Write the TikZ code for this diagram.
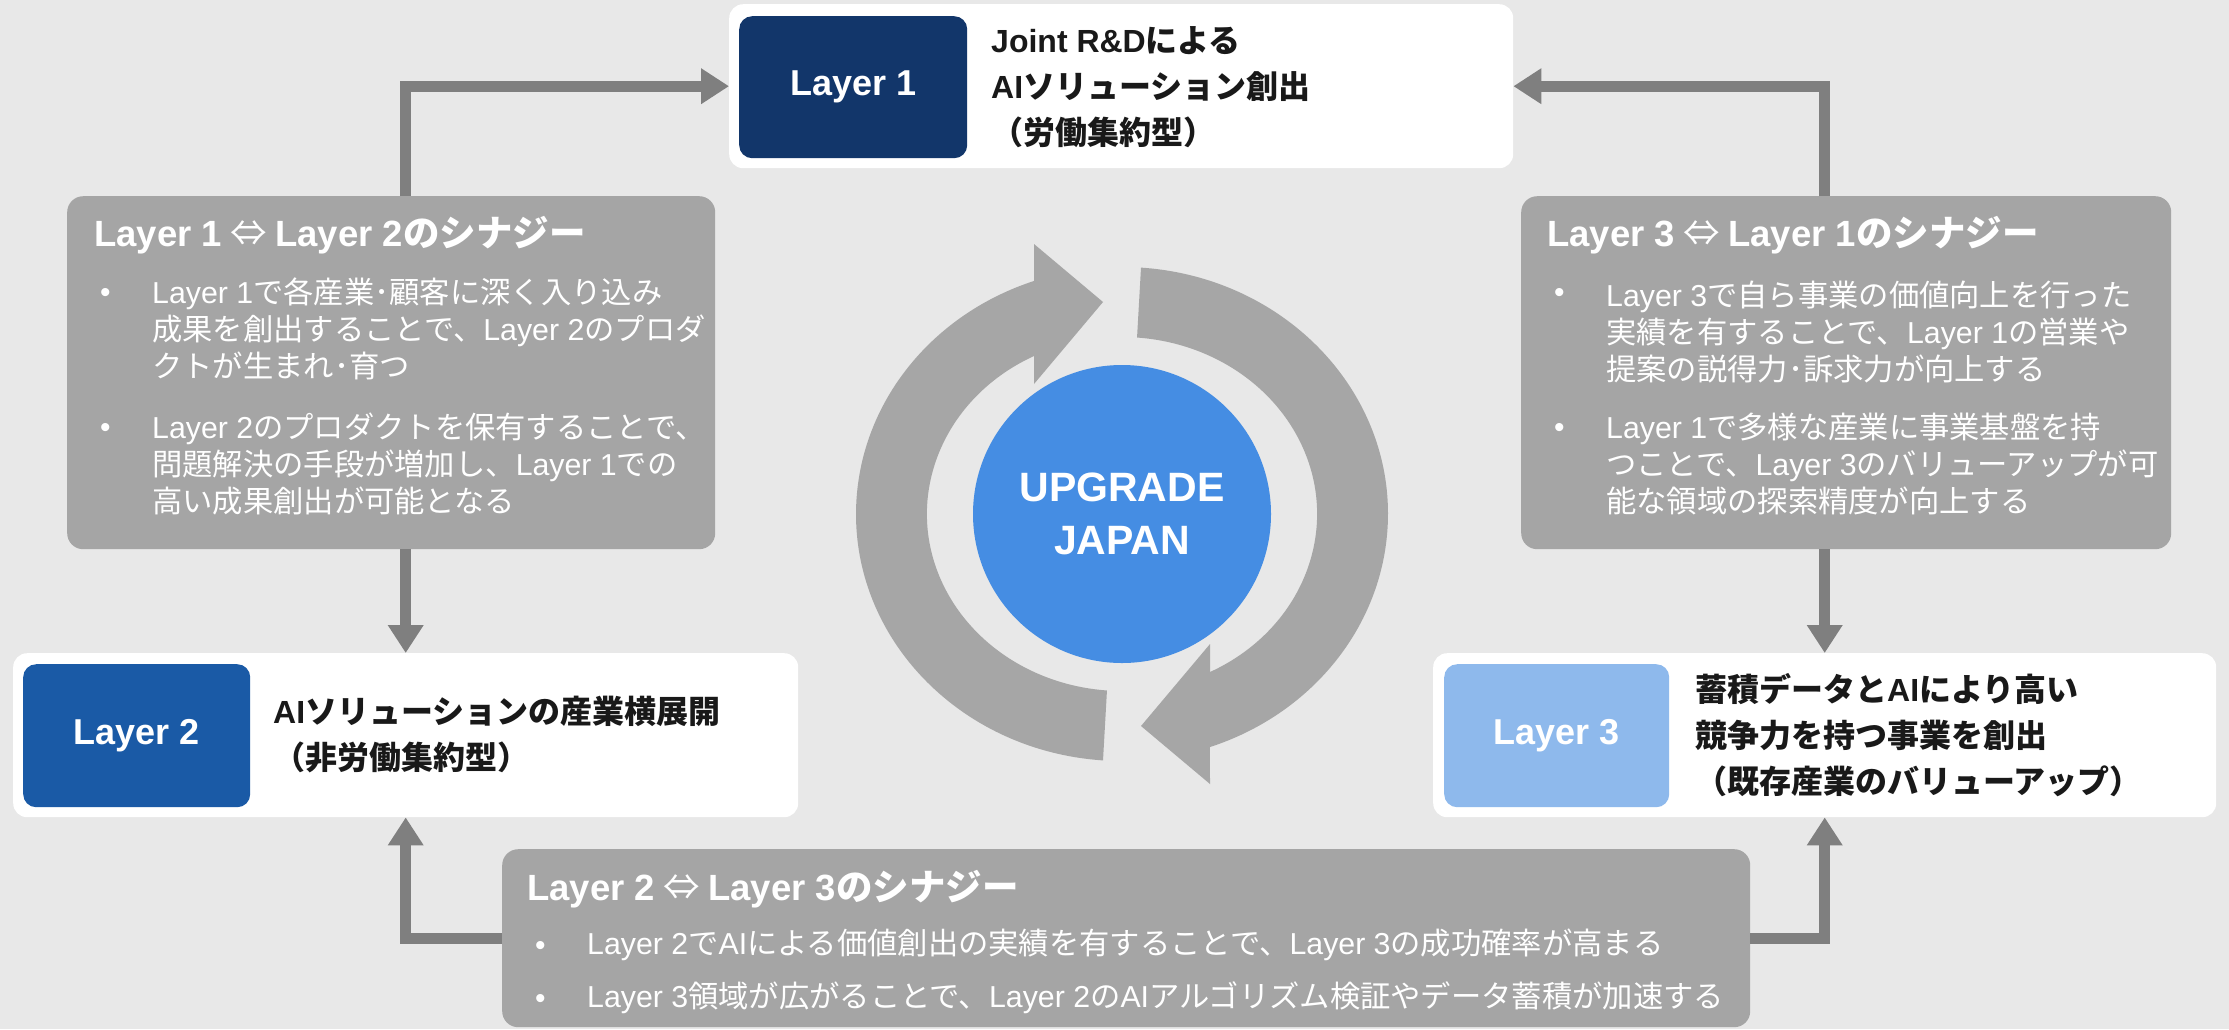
\documentclass[tikz,border=0pt]{standalone}
\usepackage{fontspec}
\setmainfont{Noto Sans CJK JP}
\newfontfamily\en{Liberation Sans}
\usetikzlibrary{arrows.meta}
\definecolor{bg}{HTML}{E8E8E8}
\definecolor{syn}{HTML}{A5A5A5}
\definecolor{connc}{HTML}{7F7F7F}
\definecolor{cyc}{HTML}{A6A6A6}
\definecolor{Lonec}{HTML}{12366A}
\definecolor{Ltwoc}{HTML}{1A5AA6}
\definecolor{Lthreec}{HTML}{8EB9EC}
\definecolor{hub}{HTML}{458DE3}
\newcommand{\lr}{{\mdseries ⇔}}
\begin{document}
\begin{tikzpicture}[x=1pt,y=1pt,
  panel/.style={fill=white, rounded corners=14pt, inner sep=0pt, anchor=north west},
  tag/.style={rounded corners=13pt, inner sep=0pt, anchor=north west, text=white,
    font=\en\bfseries\fontsize{36}{40}\selectfont},
  synbox/.style={fill=syn, rounded corners=16pt, inner sep=0pt, anchor=north west},
  head/.style={text=black!90, font=\bfseries\fontsize{32}{46}\selectfont, align=left,
    anchor=west, inner sep=0pt},
  syntitle/.style={text=white, font=\bfseries\fontsize{36.5}{40}\selectfont, anchor=west, inner sep=0pt},
  syntext/.style={text=white, font=\fontsize{30.3}{37}\selectfont, align=left, anchor=west, inner sep=0pt},
  dot/.style={text=white, font=\en\fontsize{30}{37}\selectfont, anchor=base west, inner sep=0pt},
  conn/.style={draw=connc, line width=11pt, -{Triangle[length=28pt,width=34pt]}},
]
\fill[bg] (0,0) rectangle (2229,-1029);
\useasboundingbox (0,0) rectangle (2229,-1029);

% cycle arrows
\fill[cyc] (1103,-760.4) arc[start angle=265.9, end angle=109.3, x radius=266, y radius=247]
  -- (1034,-244) -- (1103,-302) -- (1034,-384) -- (1034,-356)
  arc[start angle=116.8, end angle=265.6, x radius=195, y radius=177] -- cycle;
\begin{scope}[rotate around={180:(1122,-514)}]
\fill[cyc] (1103,-760.4) arc[start angle=265.9, end angle=109.3, x radius=266, y radius=247]
  -- (1034,-244) -- (1103,-302) -- (1034,-384) -- (1034,-356)
  arc[start angle=116.8, end angle=265.6, x radius=195, y radius=177] -- cycle;
\end{scope}
\node[circle, fill=hub, minimum size=298pt, inner sep=0pt, text=white,
  font=\en\bfseries\fontsize{41}{53}\selectfont, align=center] (hub) at (1122,-514) {UPGRADE\\JAPAN};

% Layer 1
\node[panel, minimum width=784pt, minimum height=164pt] (L1) at (729,-4) {};
\node[tag, fill=Lonec, minimum width=228pt, minimum height=142pt] (L1tag) at (739,-16) {Layer 1};
\node[head] (L1txt) at (991,-87) {{\en Joint R\&D}による\\{\en AI}ソリューション創出\\（労働集約型）};

% Layer 2
\node[panel, minimum width=785pt, minimum height=164pt] (L2) at (13,-653) {};
\node[tag, fill=Ltwoc, minimum width=227pt, minimum height=143pt] (L2tag) at (23,-664) {Layer 2};
\node[head] (L2txt) at (273,-735) {{\en AI}ソリューションの産業横展開\\（非労働集約型）};

% Layer 3
\node[panel, minimum width=783pt, minimum height=164pt] (L3) at (1433,-653) {};
\node[tag, fill=Lthreec, minimum width=225pt, minimum height=143pt] (L3tag) at (1444,-664) {Layer 3};
\node[head] (L3txt) at (1695,-735) {蓄積データと{\en AI}により高い\\競争力を持つ事業を創出\\（既存産業のバリューアップ）};

% Synergy 1-2
\node[synbox, minimum width=648pt, minimum height=353pt] (S12) at (67,-196) {};
\node[syntitle] (S12t) at (94,-235) {{\en Layer 1} \lr{} {\en Layer 2}のシナジー};
\node[dot] (S12d1) at (100,-302) {•};
\node[dot] (S12d2) at (100,-437) {•};
\node[syntext] (S12b1) at (152,-329) {{\en Layer 1}で各産業･顧客に深く入り込み\\成果を創出することで、{\en Layer 2}のプロダ\\クトが生まれ･育つ};
\node[syntext] (S12b2) at (152,-464) {{\en Layer 2}のプロダクトを保有することで、\\問題解決の手段が増加し、{\en Layer 1}での\\高い成果創出が可能となる};

% Synergy 3-1
\node[synbox, minimum width=650pt, minimum height=353pt] (S31) at (1521,-196) {};
\node[syntitle] (S31t) at (1547,-235) {{\en Layer 3} \lr{} {\en Layer 1}のシナジー};
\node[dot] (S31d1) at (1554,-302) {•};
\node[dot] (S31d2) at (1554,-437) {•};
\node[syntext] (S31b1) at (1606,-332) {{\en Layer 3}で自ら事業の価値向上を行った\\実績を有することで、{\en Layer 1}の営業や\\提案の説得力･訴求力が向上する};
\node[syntext] (S31b2) at (1606,-464) {{\en Layer 1}で多様な産業に事業基盤を持\\つことで、{\en Layer 3}のバリューアップが可\\能な領域の探索精度が向上する};

% Synergy 2-3
\node[synbox, minimum width=1248pt, minimum height=178pt] (S23) at (502,-849) {};
\node[syntitle] (S23t) at (527,-889) {{\en Layer 2} \lr{} {\en Layer 3}のシナジー};
\node[dot] (S23d1) at (535,-955) {•};
\node[dot] (S23d2) at (535,-1008) {•};
\node[syntext] (S23b1) at (587,-945) {{\en Layer 2}で{\en AI}による価値創出の実績を有することで、{\en Layer 3}の成功確率が高まる};
\node[syntext] (S23b2) at (587,-998) {{\en Layer 3}領域が広がることで、{\en Layer 2}の{\en AI}アルゴリズム検証やデータ蓄積が加速する};

% connectors
\draw[conn] (S12.north -| L2.north) |- (L1.west);
\draw[conn] (S12.south -| L2.north) -- (L2.north);
\draw[conn] (S31.north -| L3.north) |- (L1.east);
\draw[conn] (S31.south -| L3.north) -- (L3.north);
\draw[conn] (S23.west) -| (L2.south);
\draw[conn] (S23.east) -| (L3.south);
\end{tikzpicture}
\end{document}
